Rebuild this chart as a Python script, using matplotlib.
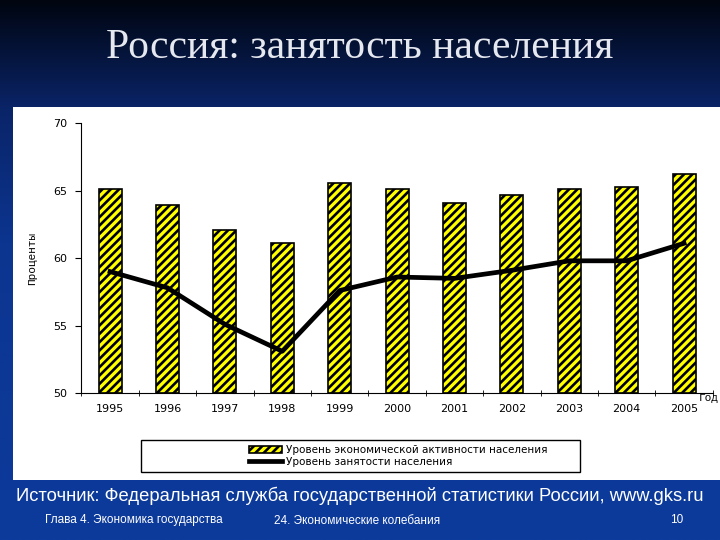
import matplotlib
matplotlib.use("Agg")
import matplotlib.pyplot as plt
import numpy as np
from matplotlib.colors import LinearSegmentedColormap
from matplotlib.patches import Rectangle

# данные
years = ["1995", "1996", "1997", "1998", "1999", "2000",
         "2001", "2002", "2003", "2004", "2005"]
activity = [65.1, 63.9, 62.1, 61.1, 65.6, 65.1, 64.1, 64.7, 65.1, 65.3, 66.2]
employment = [59.0, 57.8, 55.1, 53.1, 57.6, 58.6, 58.5, 59.1, 59.8, 59.8, 61.1]

title = "Россия: занятость населения"
source = "Источник: Федеральная служба государственной статистики России, www.gks.ru"
label_bars = "Уровень экономической активности населения"
label_line = "Уровень занятости населения"

plt.rcParams["hatch.linewidth"] = 1.9

fig = plt.figure(figsize=(7.2, 5.4), dpi=100)

# фон слайда: градиент от чёрного к синему
bg = fig.add_axes([0, 0, 1, 1], zorder=-10)
cmap = LinearSegmentedColormap.from_list(
    "slide", [(0.0, "#000510"), (0.2, "#0a2468"), (0.45, "#0c3590"), (1.0, "#0c3b9c")])
grad = np.linspace(0, 1, 256).reshape(-1, 1)
bg.imshow(grad, aspect="auto", cmap=cmap, extent=[0, 1, 0, 1], origin="upper")
bg.set_axis_off()

# белая панель диаграммы
fig.patches.append(Rectangle((0.018, 0.111), 0.982, 0.691, transform=fig.transFigure,
                             facecolor="white", edgecolor="none", zorder=-5))

fig.text(0.5, 0.912, title, ha="center", va="center", color="#e6e8f0",
         fontsize=30, family="Liberation Serif")

ax = fig.add_axes([0.113, 0.272, 0.877, 0.5])
x = np.arange(len(years))
bars = ax.bar(x, [a - 50 for a in activity], bottom=50, width=0.4, color="#ffff00",
              edgecolor="black", hatch="////", linewidth=1.2)
line, = ax.plot(x, employment, color="black", lw=3.4)

ax.set_xlim(-0.5, len(years) - 0.5)
ax.set_ylim(50, 70)
ax.set_yticks([50, 55, 60, 65, 70])
ax.set_xticks(x)
ax.set_xticklabels(years)
ax.set_xticks(np.arange(-0.5, len(years)), minor=True)
ax.tick_params(axis="x", which="major", length=0, pad=8, labelsize=8)
ax.tick_params(axis="x", which="minor", length=5, direction="inout")
ax.tick_params(axis="y", length=4, direction="out", labelsize=8, pad=6)
for s in ["top", "right"]:
    ax.spines[s].set_visible(False)
ax.set_facecolor("white")
ax.set_ylabel("Проценты", family="Liberation Mono", fontsize=8, labelpad=12)
fig.text(0.998, 0.263, "Год", family="Liberation Mono",
         fontsize=8, ha="right", va="center")

# рамка легенды
fig.patches.append(Rectangle((0.196, 0.126), 0.61, 0.059, transform=fig.transFigure,
                             facecolor="white", edgecolor="black", lw=1.0, zorder=1))
leg = fig.legend([bars, line], [label_bars, label_line],
                 loc="center left", bbox_to_anchor=(0.338, 0.1555),
                 frameon=False, fontsize=7.5, borderpad=0.0, labelspacing=0.15,
                 handlelength=3.2, handletextpad=0.4)
leg.set_zorder(2)

fig.text(0.5, 0.082, source, ha="center", va="center", color="white",
         fontsize=13.2, family="Liberation Sans")
fig.text(0.062, 0.037, "Глава 4. Экономика государства", ha="left", va="center",
         color="white", fontsize=8.5, family="Liberation Sans")
fig.text(0.38, 0.035, "24. Экономические колебания", ha="left", va="center",
         color="white", fontsize=8.5, family="Liberation Sans")
fig.text(0.93, 0.037, "10", ha="left", va="center",
         color="white", fontsize=8.5, family="Liberation Sans")

fig.savefig("out.png", dpi=100)
